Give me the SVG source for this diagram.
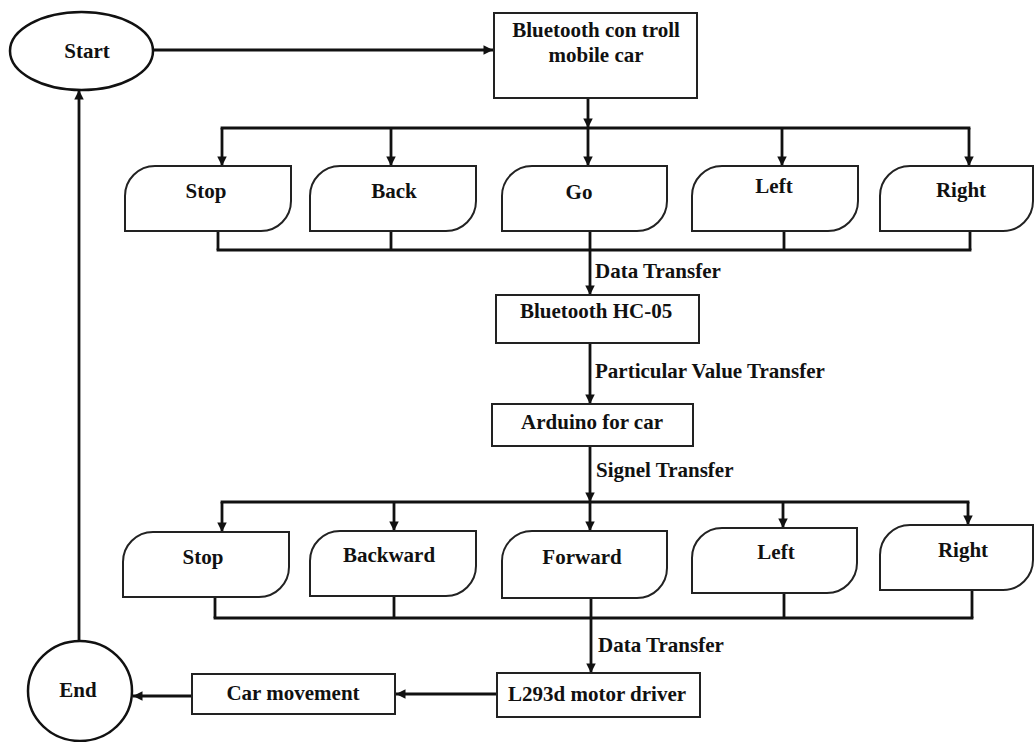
<svg xmlns="http://www.w3.org/2000/svg" width="1035" height="742" viewBox="0 0 1035 742">
<defs>
<marker id="arr" viewBox="0 0 10 10" refX="10" refY="5" markerWidth="3.4" markerHeight="3.4" orient="auto" markerUnits="strokeWidth">
<path d="M0,0 L10,5 L0,10 z" fill="#111"/>
</marker>
<style>
.box{fill:#fff;stroke:#222;stroke-width:2}
.term{fill:#fff;stroke:#111;stroke-width:2.5}
.ln{fill:none;stroke:#111;stroke-width:2.8}
.ar{fill:none;stroke:#111;stroke-width:2.8;marker-end:url(#arr)}
.t{font-family:"Liberation Serif","Times New Roman",serif;font-weight:bold;font-size:21px;fill:#111;text-anchor:middle}
.lb{font-family:"Liberation Serif","Times New Roman",serif;font-weight:bold;font-size:21px;fill:#111}
</style>
</defs>
<rect width="1035" height="742" fill="#fff"/>

<g id="connectors">
<line class="ar" x1="153" y1="50" x2="493" y2="50"/>
<line class="ar" x1="588" y1="98" x2="588" y2="128"/>
<line class="ln" x1="220.6" y1="128" x2="970.4" y2="128"/>
<line class="ar" x1="222" y1="128" x2="222" y2="166"/>
<line class="ar" x1="391" y1="128" x2="391" y2="166"/>
<line class="ar" x1="588" y1="128" x2="588" y2="166"/>
<line class="ar" x1="782" y1="128" x2="782" y2="166"/>
<line class="ar" x1="969" y1="128" x2="969" y2="166"/>
<line class="ln" x1="218" y1="231" x2="218" y2="250"/>
<line class="ln" x1="391" y1="231" x2="391" y2="250"/>
<line class="ln" x1="590" y1="231" x2="590" y2="250"/>
<line class="ln" x1="784" y1="231" x2="784" y2="250"/>
<line class="ln" x1="970" y1="231" x2="970" y2="250"/>
<line class="ln" x1="216.6" y1="250" x2="971.4" y2="250"/>
<line class="ar" x1="590" y1="250" x2="590" y2="295"/>
<line class="ar" x1="590" y1="343" x2="590" y2="404"/>
<line class="ar" x1="590" y1="446" x2="590" y2="502"/>
<line class="ln" x1="220.6" y1="502" x2="969.4" y2="502"/>
<line class="ar" x1="222" y1="502" x2="222" y2="532"/>
<line class="ar" x1="394" y1="502" x2="394" y2="531"/>
<line class="ar" x1="590" y1="502" x2="590" y2="531"/>
<line class="ar" x1="783" y1="502" x2="783" y2="528"/>
<line class="ar" x1="968" y1="502" x2="968" y2="525"/>
<line class="ln" x1="215" y1="597" x2="215" y2="618"/>
<line class="ln" x1="394" y1="596" x2="394" y2="618"/>
<line class="ln" x1="591" y1="598" x2="591" y2="618"/>
<line class="ln" x1="784" y1="593" x2="784" y2="618"/>
<line class="ln" x1="972" y1="590" x2="972" y2="618"/>
<line class="ln" x1="213.6" y1="618" x2="973.4" y2="618"/>
<line class="ar" x1="591" y1="618" x2="591" y2="673"/>
<line class="ar" x1="497" y1="694" x2="396" y2="694"/>
<line class="ar" x1="192" y1="696" x2="133" y2="696"/>
<line class="ar" x1="79" y1="640" x2="79" y2="90"/>
</g>

<g id="start">
<ellipse class="term" cx="81.5" cy="51" rx="71.5" ry="39"/>
<text class="t" x="87" y="58">Start</text>
</g>

<g id="bt-control">
<rect class="box" x="494" y="13" width="203" height="85"/>
<text class="t" x="596" y="37">Bluetooth con troll</text>
<text class="t" x="596" y="62">mobile car</text>
</g>

<g id="r1-stop">
<path class="box" d="M125,231 L125,196 A30,30 0 0 1 155,166 L291,166 L291,201 A30,30 0 0 1 261,231 Z"/>
<text class="t" x="206" y="198">Stop</text>
</g>
<g id="r1-back">
<path class="box" d="M310,231 L310,196 A30,30 0 0 1 340,166 L476,166 L476,201 A30,30 0 0 1 446,231 Z"/>
<text class="t" x="394" y="198">Back</text>
</g>
<g id="r1-go">
<path class="box" d="M502,231 L502,196 A30,30 0 0 1 532,166 L667,166 L667,201 A30,30 0 0 1 637,231 Z"/>
<text class="t" x="579" y="199">Go</text>
</g>
<g id="r1-left">
<path class="box" d="M692,231 L692,196 A30,30 0 0 1 722,166 L858,166 L858,201 A30,30 0 0 1 828,231 Z"/>
<text class="t" x="774" y="193">Left</text>
</g>
<g id="r1-right">
<path class="box" d="M880,231 L880,196 A30,30 0 0 1 910,166 L1033,166 L1033,201 A30,30 0 0 1 1003,231 Z"/>
<text class="t" x="961" y="197">Right</text>
</g>

<g id="lbl-data1"><text class="lb" x="595" y="278">Data Transfer</text></g>

<g id="bt-hc05">
<rect class="box" x="496" y="295" width="203" height="48"/>
<text class="t" x="596" y="318">Bluetooth HC-05</text>
</g>

<g id="lbl-particular"><text class="lb" x="595" y="378">Particular Value Transfer</text></g>

<g id="arduino">
<rect class="box" x="492" y="404" width="201" height="42"/>
<text class="t" x="592" y="429">Arduino for car</text>
</g>

<g id="lbl-signel"><text class="lb" x="596" y="477">Signel Transfer</text></g>

<g id="r2-stop">
<path class="box" d="M123,597 L123,562 A30,30 0 0 1 153,532 L289,532 L289,567 A30,30 0 0 1 259,597 Z"/>
<text class="t" x="203" y="564">Stop</text>
</g>
<g id="r2-backward">
<path class="box" d="M310,596 L310,561 A30,30 0 0 1 340,531 L476,531 L476,566 A30,30 0 0 1 446,596 Z"/>
<text class="t" x="389" y="562">Backward</text>
</g>
<g id="r2-forward">
<path class="box" d="M502,598 L502,561 A30,30 0 0 1 532,531 L667,531 L667,568 A30,30 0 0 1 637,598 Z"/>
<text class="t" x="582" y="564">Forward</text>
</g>
<g id="r2-left">
<path class="box" d="M692,593 L692,558 A30,30 0 0 1 722,528 L857,528 L857,563 A30,30 0 0 1 827,593 Z"/>
<text class="t" x="776" y="559">Left</text>
</g>
<g id="r2-right">
<path class="box" d="M880,590 L880,555 A30,30 0 0 1 910,525 L1033,525 L1033,560 A30,30 0 0 1 1003,590 Z"/>
<text class="t" x="963" y="557">Right</text>
</g>

<g id="lbl-data2"><text class="lb" x="598" y="652">Data Transfer</text></g>

<g id="l293d">
<rect class="box" x="497" y="673" width="203" height="44"/>
<text class="t" x="597" y="701">L293d motor driver</text>
</g>

<g id="car-movement">
<rect class="box" x="192" y="674" width="203" height="40"/>
<text class="t" x="293" y="700">Car movement</text>
</g>

<g id="end">
<ellipse class="term" cx="80" cy="691" rx="52" ry="50"/>
<text class="t" x="78" y="697">End</text>
</g>
</svg>
